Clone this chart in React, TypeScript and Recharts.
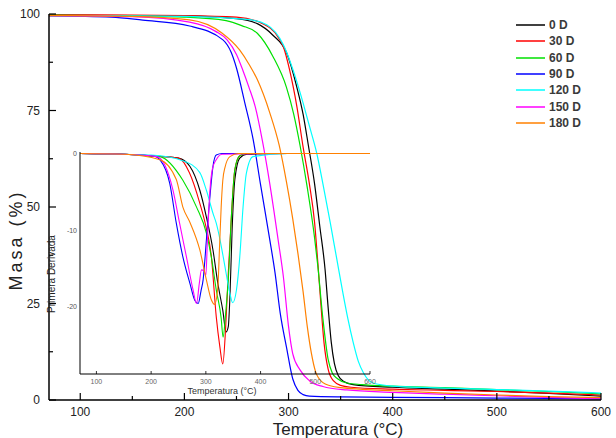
import React from "react";
import { Legend, Line, LineChart, XAxis, YAxis } from "recharts";

// Series labels / colours (Origin-style palette)
const seriesNames = ["0 D", "30 D", "60 D", "90 D", "120 D", "150 D", "180 D"];
const seriesColors = ["#000000", "#ff0000", "#00e000", "#0000ff", "#00ffff", "#ff00ff", "#ff8000"];

// Main TGA curves: temperature (°C) and mass (%)
const tgaTemp0 = [70, 150, 200, 250, 270, 285, 298, 308, 314, 319, 325, 330, 335, 338, 341, 344, 348, 353, 362, 400, 450, 500, 550, 600];
const tgaMasa0 = [99.7, 99.6, 99.5, 98.8, 97.5, 94.5, 90, 81, 74, 66, 56, 45, 34, 24, 15, 9.5, 6.2, 4.8, 4.0, 3.3, 2.8, 2.3, 1.7, 1.0];
const tgaTemp30 = [70, 150, 200, 250, 275, 290, 295, 301, 308, 314, 320, 325, 328, 331, 334, 338, 343, 350, 360, 400, 450, 500, 550, 600];
const tgaMasa30 = [99.8, 99.7, 99.6, 99.2, 97.5, 94, 91.5, 85.5, 76, 65.5, 56, 46, 36, 25, 15, 8, 5, 3.8, 3.3, 2.8, 2.5, 2.2, 1.8, 1.3];
const tgaTemp60 = [70, 150, 200, 240, 255, 270, 285, 298, 305, 311, 318, 325, 328, 333, 338, 342, 347, 356, 370, 400, 450, 500, 550, 600];
const tgaMasa60 = [99.7, 99.5, 99.2, 98.3, 97, 95, 89, 81, 74, 66, 55, 42, 35, 21, 10.5, 7, 5.5, 4.4, 4.0, 3.6, 3.2, 2.7, 2.2, 1.6];
const tgaTemp90 = [70, 130, 160, 205, 237, 245, 250, 258, 266, 273, 282, 287, 292, 298, 304, 309, 314, 320, 350, 400, 500, 600];
const tgaMasa90 = [99.5, 99.2, 98.4, 96.9, 93.3, 90, 86, 77, 67.5, 56, 41.5, 33, 22.5, 13.7, 5.5, 2.5, 1.4, 1.0, 0.8, 0.7, 0.5, 0.3];
const tgaTemp120 = [70, 150, 200, 260, 279, 295, 308, 314, 320, 327, 333, 340, 346, 352, 357, 362, 367, 372, 381, 400, 450, 500, 550, 600];
const tgaMasa120 = [99.6, 99.5, 99.4, 98.6, 97.2, 92, 82.4, 76.9, 71, 64, 56, 46, 37, 28, 21, 15, 10, 7, 4.4, 3.6, 3.1, 2.7, 2.3, 1.8];
const tgaTemp150 = [70, 150, 205, 230, 241, 250, 256, 262, 268, 275, 282, 290, 295, 300, 304, 311, 320, 333, 356, 400, 450, 500, 550, 600];
const tgaMasa150 = [99.6, 99.3, 97.9, 95.5, 93.3, 89.5, 85.5, 81, 76, 67, 56, 41.5, 32, 19, 12, 7.8, 5.0, 3.5, 2.6, 2.0, 1.5, 1.1, 0.7, 0.3];
const tgaTemp180 = [70, 150, 205, 236, 253, 262, 270, 282, 291, 298, 304, 309, 314, 318, 322, 326, 333, 340, 350, 400, 450, 500, 550, 600];
const tgaMasa180 = [99.6, 99.4, 98.5, 95.1, 90.7, 87, 83, 74.4, 66, 56.5, 47, 38, 28, 19, 12, 7.3, 4.5, 3.7, 3.2, 2.4, 1.8, 1.3, 0.9, 0.6];

// Inset DTG curves: temperature (°C) and first derivative
const dtgTemp0 = [70, 150, 200, 250, 271, 289, 301, 313, 322, 331, 337, 341, 344, 348, 353, 362, 375, 450, 600];
const dtgDeriv0 = [0, -0.1, -0.3, -0.6, -1.7, -4.8, -8.3, -12.6, -17, -20.5, -23.3, -22.6, -18.7, -10, -3.4, -0.6, -0.1, 0, 0];
const dtgTemp30 = [70, 150, 200, 250, 270, 289, 300, 310, 319, 325.5, 331, 336, 341, 347, 353, 362, 375, 450, 600];
const dtgDeriv30 = [0, -0.1, -0.3, -0.6, -2.5, -6.5, -9.5, -13.4, -21.3, -25.2, -27.5, -23, -15.6, -7.8, -2.1, -0.3, 0, 0, 0];
const dtgTemp60 = [70, 150, 200, 216, 258, 283, 301, 310, 319, 328, 331.5, 336, 341, 347, 353, 362, 375, 450, 600];
const dtgDeriv60 = [0, -0.1, -0.3, -0.4, -3.5, -7, -10.4, -13.5, -17.8, -21.5, -24, -21, -16.5, -7.8, -2.1, -0.3, 0, 0, 0];
const dtgTemp90 = [70, 150, 204, 217, 234, 246, 258, 271, 280, 286, 291, 295, 301, 307, 313, 319, 330, 450, 600];
const dtgDeriv90 = [0, -0.1, -0.3, -0.9, -3.9, -9.1, -13.5, -17, -19.2, -19.6, -18, -16.5, -11.3, -6, -1.7, -0.2, 0, 0, 0];
const dtgTemp120 = [70, 150, 200, 260, 289, 301, 313, 319, 326, 335, 344, 349, 356, 362, 368, 374, 386, 450, 600];
const dtgDeriv120 = [0, -0.1, -0.2, -1.0, -2.5, -4.8, -7.8, -9.1, -11.3, -14.8, -18.3, -19.5, -17.8, -13.5, -7, -2.6, -0.4, 0, 0];
const dtgTemp150 = [70, 150, 210, 225, 240, 252, 264.5, 276.6, 283, 288, 292, 296, 300, 303, 307.5, 312, 319, 330, 450, 600];
const dtgDeriv150 = [0, -0.1, -0.4, -1.5, -4.8, -9.1, -13.5, -17.8, -19.6, -17, -15.2, -15.3, -15.9, -11, -4.8, -2, -0.8, -0.1, 0, 0];
const dtgTemp180 = [70, 150, 216, 246, 258, 271, 289, 301, 310, 316, 322, 325, 328, 331, 335, 344, 360, 450, 600];
const dtgDeriv180 = [0, -0.1, -0.8, -3.4, -7, -9, -12.6, -16.5, -19.1, -19.7, -17.4, -12.2, -7, -3.5, -1.8, -0.4, 0, 0, 0];

// Axis ticks
const mainXTicks = [100, 150, 200, 250, 300, 350, 400, 450, 500, 550, 600];
const mainYTicks = [0, 12.5, 25, 37.5, 50, 62.5, 75, 87.5, 100];
const insetXTicks = [100, 200, 300, 400, 500, 600];
const insetYTicks = [-20, -10, 0];

const zip = (t: number[], v: number[]) => t.map((x, i) => ({ t: x, v: v[i] }));

const tgaData = [
  zip(tgaTemp0, tgaMasa0),
  zip(tgaTemp30, tgaMasa30),
  zip(tgaTemp60, tgaMasa60),
  zip(tgaTemp90, tgaMasa90),
  zip(tgaTemp120, tgaMasa120),
  zip(tgaTemp150, tgaMasa150),
  zip(tgaTemp180, tgaMasa180),
];
const dtgData = [
  zip(dtgTemp0, dtgDeriv0),
  zip(dtgTemp30, dtgDeriv30),
  zip(dtgTemp60, dtgDeriv60),
  zip(dtgTemp90, dtgDeriv90),
  zip(dtgTemp120, dtgDeriv120),
  zip(dtgTemp150, dtgDeriv150),
  zip(dtgTemp180, dtgDeriv180),
];

const FONT = '"Liberation Sans", Arial, sans-serif';

// ticks point inward; minor ticks have no label
function MainXTick({ x, y, payload }: any) {
  const major = payload.value % 100 === 0;
  return (
    <g>
      <line x1={x} x2={x} y1={y} y2={y - (major ? 7 : 4)} stroke="#000" strokeWidth={1.2} />
      {major && (
        <text x={x} y={y + 16} textAnchor="middle" fontSize={12} fill="#222">
          {payload.value}
        </text>
      )}
    </g>
  );
}

function MainYTick({ x, y, payload }: any) {
  const major = payload.value % 25 === 0;
  return (
    <g>
      <line x1={x} x2={x + (major ? 7 : 4)} y1={y} y2={y} stroke="#000" strokeWidth={1.2} />
      {major && (
        <text x={x - 9} y={y + 4.3} textAnchor="end" fontSize={12} fill="#222">
          {payload.value}
        </text>
      )}
    </g>
  );
}

function InsetXTick({ x, y, payload }: any) {
  return (
    <g>
      <line x1={x} x2={x} y1={y} y2={y - 3} stroke="#000" strokeWidth={0.8} />
      <text x={x} y={y + 9.5} textAnchor="middle" fontSize={7} fill="#666">
        {payload.value}
      </text>
    </g>
  );
}

function InsetYTick({ x, y, payload }: any) {
  return (
    <text x={x - 3} y={y + 2.5} textAnchor="end" fontSize={7} fill="#555">
      {payload.value}
    </text>
  );
}

// keep the legend in series order (recharts sorts by name otherwise)
function LegendBox({ payload }: any) {
  const items = [...(payload || [])].sort(
    (a: any, b: any) => seriesNames.indexOf(a.value) - seriesNames.indexOf(b.value)
  );
  return (
    <div style={{ fontFamily: FONT }}>
      {items.map((p: any) => (
        <div key={p.value} style={{ height: 16.3, display: "flex", alignItems: "center" }}>
          <svg width={29} height={4}>
            <line x1={0} x2={29} y1={2} y2={2} stroke={p.color} strokeWidth={1.5} />
          </svg>
          <span style={{ marginLeft: 4, fontSize: 12, fontWeight: "bold", color: "#3a3a3a" }}>{p.value}</span>
        </div>
      ))}
    </div>
  );
}

export default function App() {
  return (
    <div style={{ position: "absolute", left: 0, top: 0, width: 616, height: 438, background: "#fff", fontFamily: FONT }}>
      <LineChart width={616} height={438} margin={{ top: 14, right: 15, bottom: 0, left: 0 }}>
        <XAxis
          xAxisId="b"
          type="number"
          dataKey="t"
          domain={[70, 600]}
          allowDataOverflow
          ticks={mainXTicks}
          interval={0}
          tickSize={0}
          tickMargin={0}
          tickLine={false}
          tick={<MainXTick />}
          height={38}
          axisLine={{ stroke: "#000", strokeWidth: 1.5 }}
          label={(p: any) => (
            <text x={p.viewBox.x + p.viewBox.width / 2 + 13} y={p.viewBox.y + 35} textAnchor="middle" fontSize={17} fill="#222">
              Temperatura (°C)
            </text>
          )}
        />
        <XAxis
          xAxisId="top"
          orientation="top"
          type="number"
          domain={[70, 600]}
          height={0}
          tick={false}
          tickLine={false}
          axisLine={{ stroke: "#777", strokeWidth: 2 }}
          label={(p: any) => (
            <text x={p.viewBox.x + 317} y={p.viewBox.y + 20} textAnchor="middle" fontSize={16} fill="#333">
              MC8
            </text>
          )}
        />
        <YAxis
          yAxisId="l"
          type="number"
          domain={[0, 100]}
          allowDataOverflow
          ticks={mainYTicks}
          interval={0}
          tickSize={0}
          tickMargin={0}
          tickLine={false}
          tick={<MainYTick />}
          width={49}
          axisLine={{ stroke: "#000", strokeWidth: 1.5 }}
          label={(p: any) => {
            const cx = 22;
            const cy = p.viewBox.y + p.viewBox.height / 2 + 33;
            return (
              <text x={cx} y={cy} transform={`rotate(-90 ${cx} ${cy})`} textAnchor="middle" fontSize={18} letterSpacing={3} fill="#222">
                Masa (%)
              </text>
            );
          }}
        />
        <YAxis
          yAxisId="r"
          orientation="right"
          type="number"
          domain={[0, 100]}
          width={0}
          tick={false}
          tickLine={false}
          axisLine={{ stroke: "#777", strokeWidth: 2 }}
        />
        <Legend
          layout="horizontal"
          verticalAlign="middle"
          align="center"
          wrapperStyle={{ left: 516, top: 17, width: 90, height: 120 }}
          content={<LegendBox />}
        />
        {tgaData.map((d, i) => (
          <Line
            key={seriesNames[i]}
            xAxisId="b"
            yAxisId="l"
            data={d}
            dataKey="v"
            name={seriesNames[i]}
            type="monotone"
            stroke={seriesColors[i]}
            strokeWidth={1.2}
            dot={false}
            activeDot={false}
            isAnimationActive={false}
          />
        ))}
      </LineChart>

      <div style={{ position: "absolute", left: 30, top: 140 }}>
        <LineChart width={350} height={260} margin={{ top: 12, right: 10, bottom: 0, left: 0 }}>
          <XAxis
            type="number"
            dataKey="t"
            domain={[70, 600]}
            allowDataOverflow
            ticks={insetXTicks}
            interval={0}
            tickSize={0}
            tickMargin={0}
            tickLine={false}
            tick={<InsetXTick />}
            height={26}
            axisLine={{ stroke: "#000", strokeWidth: 1 }}
            label={(p: any) => (
              <text x={p.viewBox.x + p.viewBox.width / 2 - 3} y={p.viewBox.y + 20} textAnchor="middle" fontSize={9} fill="#333">
                Temperatura (°C)
              </text>
            )}
          />
          <YAxis
            type="number"
            domain={[-28.8, 0.2]}
            allowDataOverflow
            ticks={insetYTicks}
            interval={0}
            tickSize={0}
            tickMargin={0}
            tickLine={false}
            tick={<InsetYTick />}
            width={50}
            axisLine={{ stroke: "#000", strokeWidth: 1 }}
            label={(p: any) => {
              const cx = p.viewBox.x + 24.5;
              const cy = p.viewBox.y + 122;
              return (
                <text x={cx} y={cy} transform={`rotate(-90 ${cx} ${cy})`} textAnchor="middle" fontSize={10} fill="#222">
                  Primera Derivada
                </text>
              );
            }}
          />
          {dtgData.map((d, i) => (
            <Line
              key={seriesNames[i]}
              data={d}
              dataKey="v"
              name={seriesNames[i]}
              type="monotone"
              stroke={seriesColors[i]}
              strokeWidth={1.1}
              dot={false}
              activeDot={false}
              isAnimationActive={false}
            />
          ))}
        </LineChart>
      </div>
    </div>
  );
}
